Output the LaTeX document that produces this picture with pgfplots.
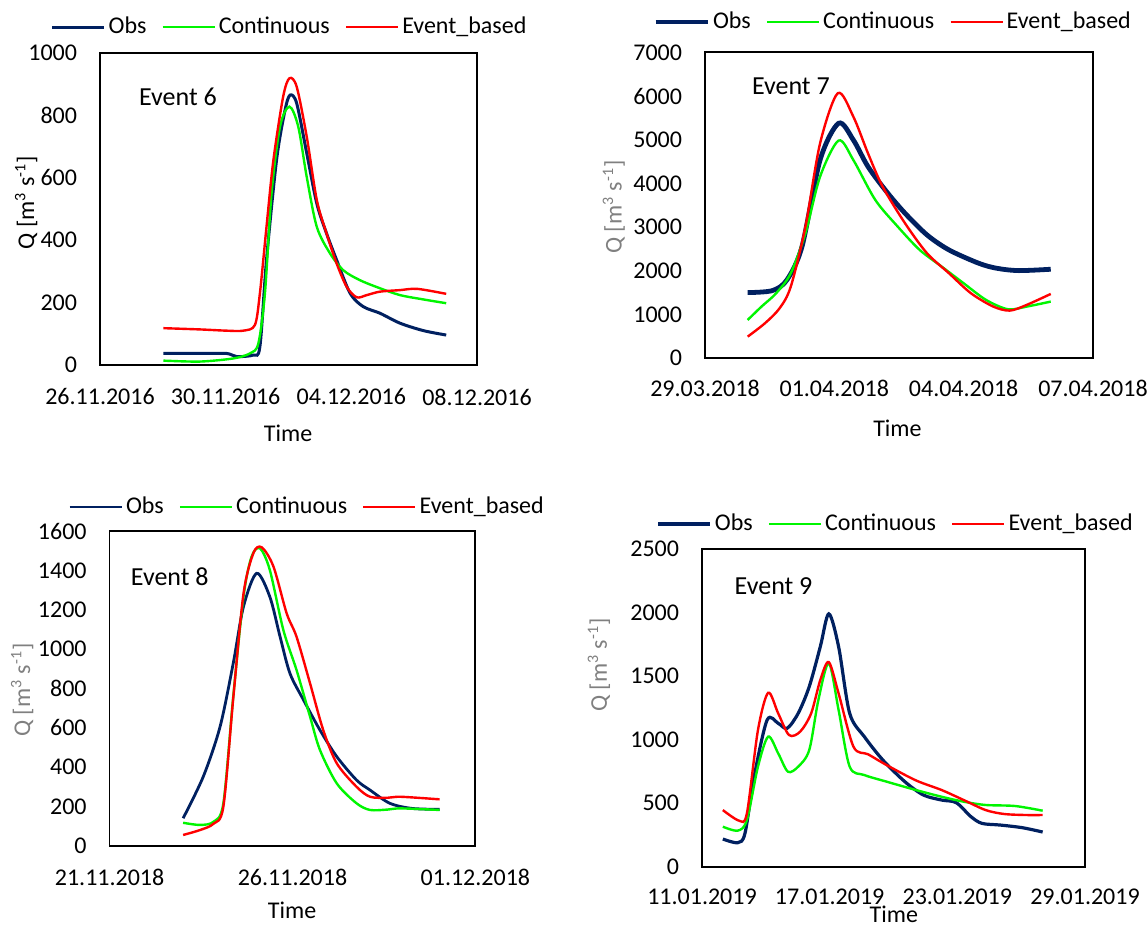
\documentclass[border=0pt]{standalone}
\usepackage{fontspec}
\setmainfont{Carlito}
\usepackage{pgfplots}
\pgfplotsset{compat=1.18}
\definecolor{obs}{RGB}{0,32,96}
\definecolor{cont}{RGB}{0,245,0}
\definecolor{evb}{RGB}{255,0,0}
\definecolor{labgray}{RGB}{128,128,128}
\pgfplotsset{
  panel/.style={
    scale only axis,
    axis line style={line width=0.9pt},
    major tick length=0pt,
    tick style={draw=none},
    ymin=0,
    font=\fontsize{12}{14}\selectfont,
    tick label style={font=\fontsize{12}{14}\selectfont},
    /pgf/number format/assume math mode=true,
    /pgf/number format/1000 sep={},
    yticklabel style={inner sep=0pt, anchor=east, xshift=-11.3pt},
    xticklabel style={inner sep=0pt, anchor=center, yshift=-15.5pt},
    legend columns=3,
    legend style={draw=none, fill=none, inner sep=0pt, font=\fontsize{12}{14}\selectfont, anchor=center,
      /tikz/every even column/.append style={column sep=6pt}, nodes={inner sep=1.5pt}},
    legend image code/.code={\draw[#1] (0pt,0pt) -- (26pt,0pt);},
    label style={font=\fontsize{12}{14}\selectfont},
    xlabel=Time,
    ylabel={Q [m\textsuperscript{3} s\textsuperscript{-1}]},
    clip=false,
    no markers,
  },
  sobs/.style={color=obs, line width=1.5pt, smooth},
  scont/.style={color=cont, line width=1.2pt, smooth},
  sevb/.style={color=evb, line width=1.2pt, smooth},
}
\begin{document}
\begin{tikzpicture}
\useasboundingbox (0,0) rectangle (574pt,463pt);
% ---------------- Event 6
\begin{axis}[panel, at={(50pt,280.5pt)}, anchor=south west, width=188.5pt, height=156pt,
  xmin=0, xmax=12, ymax=1000, ytick={0,200,...,1000},
  xtick={0,4,8,12}, xticklabels={26.11.2016,30.11.2016,04.12.2016,08.12.2016},
  xticklabel style={yshift=-0.5pt},
  legend style={at={(0.504,1.083)}},
  xlabel style={at={(axis description cs:0.499,-0.218)}, anchor=center},
  ylabel style={at={(axis description cs:-0.196,0.52)}, anchor=center}]
\addplot[sobs] coordinates {(2.02,37)(3.18,37)(4.03,37)(4.35,27)(4.88,32)(5.09,59)(5.3,337)(5.62,657)(5.89,817)(6.05,865)(6.26,839)(6.58,679)(6.9,518)(7.21,422)(7.53,337)(7.96,230)(8.38,187)(8.91,166)(9.55,134)(10.3,110)(11.02,96)};
\addlegendentry{Obs}
\addplot[scont] coordinates {(2.02,14)(3.18,11)(4.24,21)(4.77,37)(5.04,69)(5.25,230)(5.46,550)(5.73,764)(6.03,828)(6.31,764)(6.58,603)(6.9,443)(7.32,358)(7.74,304)(8.27,272)(8.91,246)(9.55,224)(10.3,210)(11.02,198)};
\addlegendentry{Continuous}
\addplot[sevb] coordinates {(2.02,118)(3.18,114)(4.03,110)(4.56,110)(4.93,128)(5.09,230)(5.3,443)(5.52,657)(5.83,860)(6.03,919)(6.26,892)(6.58,732)(6.9,529)(7.21,422)(7.53,326)(7.85,251)(8.17,217)(8.49,224)(8.91,235)(9.55,240)(10.1,244)(11.02,228)};
\addlegendentry{Event\_based}
\node[anchor=west, font=\fontsize{13}{15}\selectfont] at (rel axis cs:0.085,0.859) {Event 6};
\end{axis}
% ---------------- Event 7
\begin{axis}[panel, at={(352.5pt,283.85pt)}, anchor=south west, width=194pt, height=153pt,
  xmin=0, xmax=9, ymax=7000, ytick={0,1000,...,7000},
  xtick={0,3,6,9}, xticklabels={29.03.2018,01.04.2018,04.04.2018,07.04.2018},
  xticklabel style={yshift=0.5pt},
  legend style={at={(0.486,1.099)}},
  ylabel style={at={(axis description cs:-0.235,0.494)}, anchor=center, text=labgray},
  xlabel style={at={(axis description cs:0.496,-0.228)}, anchor=center}]
\addplot[sobs, line width=2.4pt] coordinates {(0.99,1503)(1.56,1548)(1.9,1792)(2.25,2555)(2.67,4538)(3.1,5377)(3.44,4996)(3.78,4386)(4.21,3814)(4.64,3318)(5.15,2822)(5.66,2479)(6.35,2174)(6.77,2059)(7.28,2006)(8.02,2037)};
\addlegendentry{Obs}
\addplot[scont] coordinates {(0.99,877)(1.31,1182)(1.65,1487)(1.99,1945)(2.33,2860)(2.67,4157)(3.1,4981)(3.44,4538)(3.95,3623)(4.47,3013)(4.98,2479)(5.49,2098)(6.0,1716)(6.52,1335)(7.03,1121)(7.46,1182)(8.02,1297)};
\addlegendentry{Continuous}
\addplot[sevb] coordinates {(0.99,496)(1.39,801)(1.73,1144)(1.99,1640)(2.33,3013)(2.67,4920)(3.08,6064)(3.44,5530)(3.78,4691)(4.12,3928)(4.64,3089)(5.15,2403)(5.66,1945)(6.17,1487)(6.69,1182)(7.07,1091)(7.46,1220)(8.02,1472)};
\addlegendentry{Event\_based}
\node[anchor=west, font=\fontsize{13}{15}\selectfont] at (rel axis cs:0.103,0.890) {Event 7};
\end{axis}
% ---------------- Event 8
\begin{axis}[panel, at={(54.8pt,40pt)}, anchor=south west, width=182.9pt, height=157.5pt,
  xmin=0, xmax=10, ymax=1600, ytick={0,200,...,1600},
  xtick={0,5,10}, xticklabels={21.11.2018,26.11.2018,01.12.2018},
  legend style={at={(0.541,1.076)}},
  ylabel style={at={(axis description cs:-0.239,0.495)}, anchor=center, text=labgray},
  xlabel style={at={(axis description cs:0.499,-0.203)}, anchor=center}]
\addplot[sobs, line width=1.4pt] coordinates {(2.01,141)(2.56,352)(3.02,606)(3.38,928)(3.66,1216)(4.02,1385)(4.38,1266)(4.66,1063)(4.93,877)(5.3,742)(5.75,589)(6.21,454)(6.75,335)(7.12,284)(7.66,217)(8.26,191)(9.02,186)};
\addlegendentry{Obs}
\addplot[scont] coordinates {(2.01,118)(2.47,107)(2.84,123)(3.11,217)(3.38,758)(3.66,1266)(3.88,1469)(4.11,1512)(4.38,1402)(4.75,1097)(5.11,894)(5.48,657)(5.75,488)(6.21,318)(6.75,217)(7.12,183)(7.6,185)(7.96,191)(9.02,183)};
\addlegendentry{Continuous}
\addplot[sevb] coordinates {(2.01,56)(2.47,81)(2.84,113)(3.11,200)(3.38,750)(3.66,1280)(3.93,1487)(4.16,1517)(4.48,1419)(4.84,1182)(5.11,1063)(5.48,826)(5.84,589)(6.21,420)(6.75,301)(7.12,250)(7.6,245)(7.96,250)(9.02,237)};
\addlegendentry{Event\_based}
\node[anchor=west, font=\fontsize{13}{15}\selectfont] at (rel axis cs:0.039,0.854) {Event 8};
\end{axis}
% ---------------- Event 9
\begin{axis}[panel, at={(351pt,29.65pt)}, anchor=south west, width=191.5pt, height=158.7pt,
  xmin=0, xmax=18, ymax=2500, ytick={0,500,...,2500},
  xtick={0,6,12,18}, xticklabels={11.01.2019,17.01.2019,23.01.2019,29.01.2019},
  xticklabel style={yshift=0.5pt},
  legend style={at={(0.507,1.080)}},
  ylabel style={at={(axis description cs:-0.269,0.635)}, anchor=center, text=labgray},
  xlabel style={at={(axis description cs:0.501,-0.150)}, anchor=center}]
\addplot[sobs, line width=1.6pt] coordinates {(0.98,218)(1.68,189)(2.02,263)(2.45,709)(3.06,1155)(3.58,1129)(4.0,1090)(4.52,1208)(5.04,1418)(5.56,1733)(5.96,1991)(6.42,1733)(6.94,1208)(7.63,1024)(8.5,840)(9.53,670)(10.4,565)(11.26,525)(11.95,504)(12.64,394)(13.16,341)(14.02,328)(15.06,307)(16.01,273)};
\addlegendentry{Obs}
\addplot[scont] coordinates {(0.98,315)(1.68,284)(2.11,368)(2.63,788)(3.11,1024)(3.58,893)(4.04,748)(4.52,788)(5.04,919)(5.47,1313)(5.96,1602)(6.42,1234)(6.94,788)(7.63,722)(8.67,670)(10.05,604)(11.26,551)(12.3,512)(13.33,486)(14.71,478)(16.01,441)};
\addlegendentry{Continuous}
\addplot[sevb] coordinates {(0.98,446)(1.75,362)(2.11,420)(2.63,1076)(3.11,1370)(3.58,1208)(4.09,1037)(4.61,1063)(5.13,1208)(5.56,1471)(5.96,1611)(6.42,1365)(7.12,945)(7.81,885)(8.67,801)(10.05,680)(11.26,604)(12.3,525)(13.33,446)(14.2,415)(15.23,407)(16.01,407)};
\addlegendentry{Event\_based}
\node[anchor=west, font=\fontsize{13}{15}\selectfont] at (rel axis cs:0.067,0.884) {Event 9};
\end{axis}
\end{tikzpicture}
\end{document}
